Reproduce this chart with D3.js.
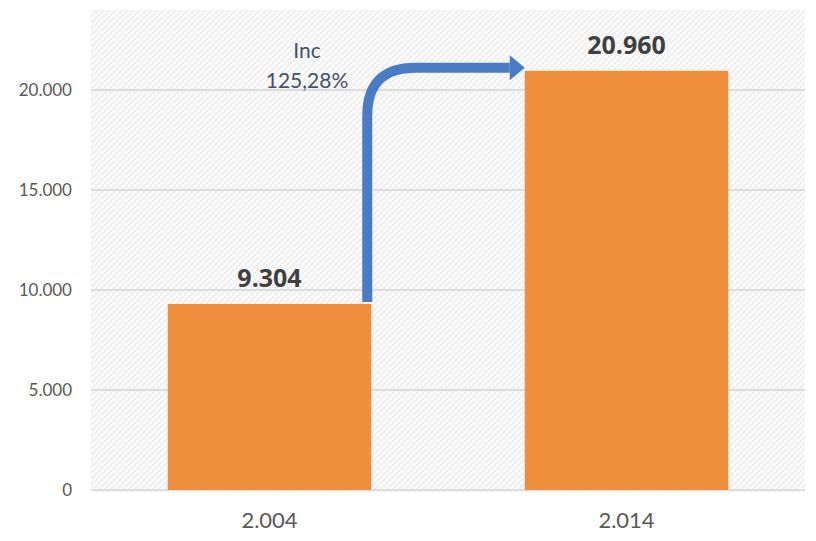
<!DOCTYPE html>
<html>
<head>
<meta charset="utf-8">
<script src="https://cdn.jsdelivr.net/npm/d3@7"></script>
<style>
  html, body { margin: 0; padding: 0; background: #ffffff; }
  svg { display: block; }
</style>
</head>
<body>
<svg id="chart" width="816" height="541"></svg>
<script>
const categories = ["2.004", "2.014"];
const values = [9304, 20960];
const valueLabels = ["9.304", "20.960"];
const yTicks = [0, 5000, 10000, 15000, 20000];
const yTickLabels = ["0", "5.000", "10.000", "15.000", "20.000"];
const annotationLines = ["Inc", "125,28%"];

const svg = d3.select("#chart");
const plot = { left: 91, right: 805, top: 10, bottom: 490 };

const defs = svg.append("defs");
const pat = defs.append("pattern")
  .attr("id", "hatch").attr("patternUnits", "userSpaceOnUse")
  .attr("width", 6).attr("height", 6);
pat.append("rect").attr("width", 6).attr("height", 6).attr("fill", "#fbfbfb");
pat.append("path").attr("d", "M0,6 L6,0 M-1,1 L1,-1 M5,7 L7,5")
  .attr("stroke", "#ebebeb").attr("stroke-width", 1.2);
pat.append("path").attr("d", "M0,0 L6,6")
  .attr("stroke", "#f1f1f1").attr("stroke-width", 1);

const x = d3.scaleBand().domain(categories)
  .range([plot.left, plot.right]).paddingInner(0.43).paddingOuter(0.215);
const y = d3.scaleLinear().domain([0, 24000]).range([plot.bottom, plot.top]);

svg.append("rect").attr("x", plot.left).attr("y", plot.top)
  .attr("width", plot.right - plot.left).attr("height", plot.bottom - plot.top + 2)
  .attr("fill", "url(#hatch)");

// gridlines
svg.append("g").selectAll("line").data(yTicks).join("line")
  .attr("x1", plot.left).attr("x2", plot.right)
  .attr("y1", d => y(d)).attr("y2", d => y(d))
  .attr("stroke", "#dedede").attr("stroke-width", 2);

// y axis labels
const yAxis = d3.axisLeft(y).tickValues(yTicks)
  .tickFormat((d, i) => yTickLabels[i]).tickSize(0).tickPadding(0);
const gy = svg.append("g").attr("transform", `translate(72,0)`).call(yAxis);
gy.select(".domain").remove();
gy.selectAll("text").attr("fill", "#595959")
  .style("font-family", "Lato, 'Open Sans', sans-serif").style("font-size", "17px");

// x axis labels
const xAxis = d3.axisBottom(x).tickSize(0).tickPadding(0);
const gx = svg.append("g").attr("transform", `translate(0,512)`).call(xAxis);
gx.select(".domain").remove();
gx.selectAll("text").attr("fill", "#595959")
  .style("font-family", "Lato, 'Open Sans', sans-serif").style("font-size", "22px");

// bars
svg.append("g").selectAll("rect").data(values).join("rect")
  .attr("x", (d, i) => x(categories[i]))
  .attr("y", d => y(d))
  .attr("width", x.bandwidth())
  .attr("height", d => y(0) - y(d))
  .attr("fill", "#ef8f3d");

// value labels
svg.append("g").selectAll("text").data(values).join("text")
  .attr("x", (d, i) => x(categories[i]) + x.bandwidth() / 2)
  .attr("y", d => y(d) - 17)
  .attr("text-anchor", "middle")
  .attr("fill", "#404040")
  .style("font-family", "'Open Sans', Lato, sans-serif")
  .style("font-weight", "bold").style("font-size", "25px")
  .text((d, i) => valueLabels[i]);

// arrow
const ax = x(categories[0]) + x.bandwidth() - 4;
const ay0 = y(values[0]) - 2;
const ayTop = y(values[1]) - 3;
const tipX = x(categories[1]);
const r = 48;
const headLen = 15, headHalf = 12.5;
const arrowColor = "#4a7cc6";
svg.append("path")
  .attr("d", `M${ax},${ay0} L${ax},${ayTop + r} Q${ax},${ayTop} ${ax + r},${ayTop} L${tipX - headLen},${ayTop}`)
  .attr("fill", "none").attr("stroke", arrowColor).attr("stroke-width", 10);
svg.append("path")
  .attr("d", `M${tipX - headLen},${ayTop - headHalf} L${tipX},${ayTop} L${tipX - headLen},${ayTop + headHalf} Z`)
  .attr("fill", arrowColor);

// annotation text
svg.append("g").selectAll("text").data(annotationLines).join("text")
  .attr("x", 307)
  .attr("y", (d, i) => 58 + i * 30)
  .attr("text-anchor", "middle")
  .attr("fill", "#44506e")
  .style("font-family", "Lato, 'Open Sans', sans-serif").style("font-size", "21px")
  .text(d => d);
</script>
</body>
</html>
